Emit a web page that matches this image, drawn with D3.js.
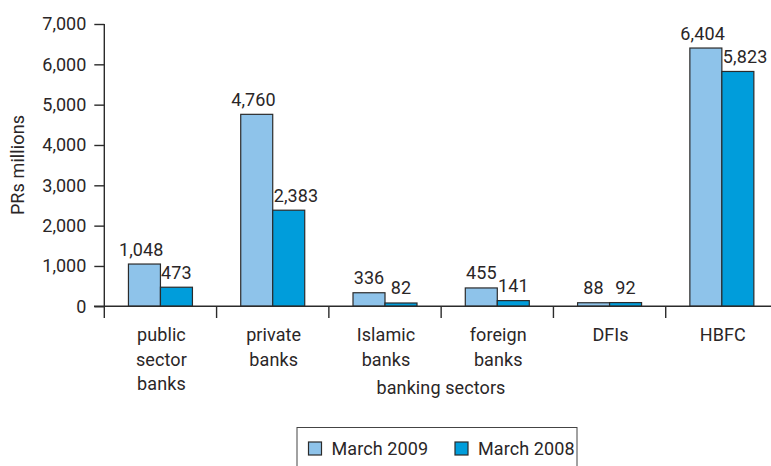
<!DOCTYPE html>
<html>
<head>
<meta charset="utf-8">
<script src="https://d3js.org/d3.v7.min.js"></script>
<style>
  html, body { margin: 0; padding: 0; background: #fff; }
  svg text { font-family: Roboto, "Liberation Sans", sans-serif; font-size: 18px; fill: #2a2627; letter-spacing: 0.1px; }
</style>
</head>
<body>
<svg id="chart" width="771" height="466"></svg>
<script>
const categories = [["public", "sector", "banks"], ["private", "banks"], ["Islamic", "banks"], ["foreign", "banks"], ["DFIs"], ["HBFC"]];
const seriesNames = ["March 2009", "March 2008"];
const march2009 = [1048, 4760, 336, 455, 88, 6404];
const march2008 = [473, 2383, 82, 141, 92, 5823];
const yTicks = [0, 1000, 2000, 3000, 4000, 5000, 6000, 7000];
const colors = ["#8ec3ea", "#009ddb"];
const stroke = "#2b2b2b";

const svg = d3.select("#chart");
const catKeys = categories.map((c, i) => i);

const y = d3.scaleLinear().domain([0, 7000]).range([306.3, 24]);
const x0 = d3.scaleBand().domain(catKeys).range([104.3, 778]).paddingInner(0).paddingOuter(0);
const groupW = 64;
const x1 = d3.scaleBand().domain([0, 1]).range([0, groupW]).padding(0);

const fmt = d3.format(",");

// y axis
const yAxis = d3.axisLeft(y).tickValues(yTicks).tickFormat(fmt).tickSize(10).tickPadding(8);
const gy = svg.append("g").attr("transform", "translate(104.3,0)").call(yAxis);
gy.select(".domain").remove();
gy.selectAll(".tick line").attr("stroke", stroke).attr("stroke-width", 1.4);
gy.selectAll(".tick text").attr("font-size", null).attr("font-family", null).style("letter-spacing", "0px");
svg.append("line").attr("x1", 104.3).attr("x2", 104.3).attr("y1", y(7000)).attr("y2", 318)
  .attr("stroke", stroke).attr("stroke-width", 1.4);

// bars
const data = catKeys.map(i => ({i, vals: [march2009[i], march2008[i]]}));
const groups = svg.append("g").selectAll("g").data(data).join("g")
  .attr("transform", d => `translate(${x0(d.i) + x0.bandwidth() / 2 - groupW / 2},0)`);

groups.selectAll("rect").data(d => d.vals.map((v, k) => ({v, k}))).join("rect")
  .attr("x", d => x1(d.k))
  .attr("width", x1.bandwidth())
  .attr("y", d => y(d.v))
  .attr("height", d => y(0) - y(d.v))
  .attr("fill", d => colors[d.k])
  .attr("stroke", stroke)
  .attr("stroke-width", 1.2);

// value labels
groups.each(function(d) {
  const g = d3.select(this);
  d.vals.forEach((v, k) => {
    const bx = x1(k), bw = x1.bandwidth();
    const t = g.append("text").text(fmt(v)).attr("y", y(v) - 8.5).attr("text-anchor", "middle").attr("x", bx + bw / 2);
    const w = t.node().getComputedTextLength();
    if (w > bw) {
      if (k === 0) t.attr("text-anchor", "end").attr("x", bx + bw + 3);
      else t.attr("text-anchor", "start").attr("x", bx + 1);
    }
  });
});

// x axis
svg.append("line").attr("x1", 94).attr("x2", 771).attr("y1", y(0)).attr("y2", y(0))
  .attr("stroke", stroke).attr("stroke-width", 1.4);
catKeys.slice(1).forEach(i => {
  svg.append("line").attr("x1", x0(i)).attr("x2", x0(i)).attr("y1", y(0)).attr("y2", 318)
    .attr("stroke", stroke).attr("stroke-width", 1.4);
});
catKeys.forEach(i => {
  const t = svg.append("text").attr("text-anchor", "middle");
  categories[i].forEach((line, j) => {
    t.append("tspan").attr("x", x0(i) + x0.bandwidth() / 2 + 1).attr("y", 341 + j * 24.5).text(line);
  });
});

// axis titles
svg.append("text").attr("x", 441).attr("y", 394).attr("text-anchor", "middle").text("banking sectors");
svg.append("text").attr("transform", "translate(24,165) rotate(-90)").attr("text-anchor", "middle").text("PRs millions");

// legend
svg.append("rect").attr("x", 297).attr("y", 427.5).attr("width", 280).attr("height", 50)
  .attr("fill", "none").attr("stroke", "#444").attr("stroke-width", 1);
const legX = [308.5, 455];
seriesNames.forEach((name, k) => {
  svg.append("rect").attr("x", legX[k]).attr("y", 442).attr("width", 13).attr("height", 13)
    .attr("fill", colors[k]).attr("stroke", stroke).attr("stroke-width", 1.2);
  svg.append("text").attr("x", legX[k] + 23).attr("y", 455).text(name);
});
</script>
</body>
</html>
